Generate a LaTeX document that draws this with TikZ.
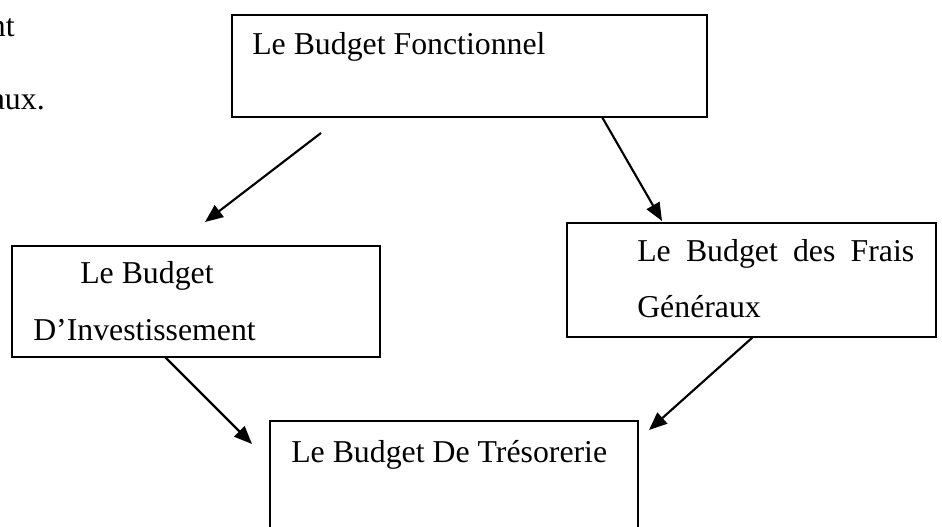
\documentclass[tikz,border=0pt]{standalone}
\usepackage{fontspec}
\setmainfont{Liberation Serif}
\usetikzlibrary{fit,arrows.meta}
\begin{document}
\begin{tikzpicture}[x=0.75pt,y=-0.75pt,
  box/.style={draw=black,line width=1.5pt,inner sep=0pt,fit=#1},
  lbl/.style={inner sep=0pt,anchor=base west,font=\fontsize{23.85}{28}\selectfont},
  conn/.style={line width=1.6pt,-{Triangle[length=13.5pt,width=11pt]}}]
\useasboundingbox (0,0) rectangle (942,527);
\clip (0,0) rectangle (942,527);
% corners
\coordinate (t1) at (232,15);  \coordinate (t2) at (707,117);
\coordinate (l1) at (12,246);  \coordinate (l2) at (380,357);
\coordinate (r1) at (567,223); \coordinate (r2) at (936,337);
\coordinate (b1) at (270,421); \coordinate (b2) at (638,545);
\node[box={(t1)(t2)}] (topbox) {};
\node[box={(l1)(l2)}] (leftbox) {};
\node[box={(r1)(r2)}] (rightbox) {};
\node[box={(b1)(b2)}] (botbox) {};
% texts
\node[lbl] (ttop) at (252,55) {Le Budget Fonctionnel};
\node[lbl] (tl1) at (80,283) {Le Budget};
\node[lbl] (tl2) at (33,340) {D’Investissement};
\node[lbl] (tr1) at (637,262) {\hbox to 207.75pt{Le\hfill Budget\hfill des\hfill Frais}};
\node[lbl] (tr2) at (637,317) {Généraux};
\node[lbl] (tbot) at (291,462) {Le Budget De Trésorerie};
\node[lbl,anchor=base east] (cut1) at (15,37) {nt};
\node[lbl,anchor=base east] (cut2) at (45,110) {aux.};
% connector ends
\coordinate (a1s) at (321,133); \coordinate (a1e) at (205,222);
\coordinate (a2s) at (602,117); \coordinate (a2e) at (662,221);
\coordinate (a3s) at (165,357); \coordinate (a3e) at (252,444);
\coordinate (a4s) at (753,337); \coordinate (a4e) at (649,430);
\draw[conn] (a1s) -- (a1e);
\draw[conn] (a2s) -- (a2e);
\draw[conn] (a3s) -- (a3e);
\draw[conn] (a4s) -- (a4e);
\end{tikzpicture}
\end{document}
